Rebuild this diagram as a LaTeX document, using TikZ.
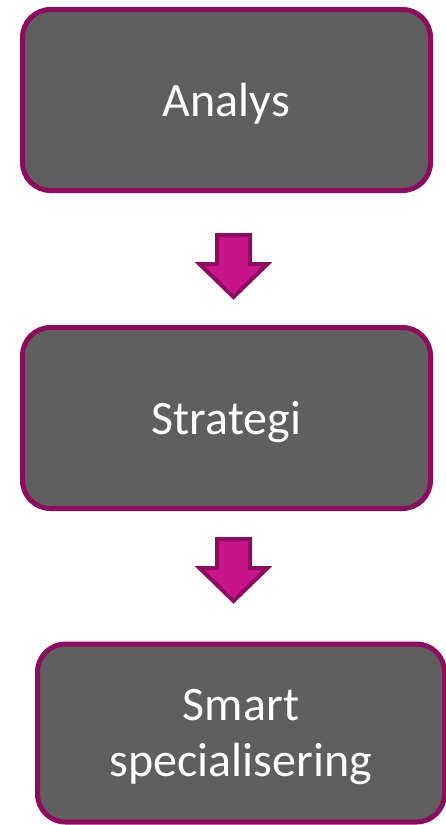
\documentclass[tikz,border=0pt]{standalone}
\usepackage{fontspec}
\setmainfont{Carlito}
\usetikzlibrary{positioning}
\definecolor{boxgray}{HTML}{5F5F5F}
\definecolor{plum}{HTML}{8E0C5F}
\definecolor{magenta}{HTML}{C8168A}

\begin{document}
\begin{tikzpicture}[x=1pt, y=-1pt,
    stage/.style={draw=plum, line width=5pt, fill=boxgray, rounded corners=28pt,
      minimum width=408pt, minimum height=181pt, text=white, align=center,
      text depth=0pt, font=\fontsize{48}{56}\selectfont},
    flowarrow/.style={draw=plum, line width=4pt, fill=magenta, line join=miter}]
      \useasboundingbox (0,0) rectangle (446,825);
      \node[stage] (analys) at (226.5,100) {Analys};
      \node[stage] (strategi) at (226.5,418) {Strategi};
      \node[stage, minimum width=407pt, minimum height=178pt] (smart) at (241,733) {Smart\\specialisering};
      \coordinate (a1) at (233.5,235);
      \coordinate (a2) at (233.5,539);
      \draw[flowarrow] (a1) ++(-16.5,0) -- ++(33,0) -- ++(0,29) -- ++(17.5,0) -- ++(-34,33) -- ++(-34,-33) -- ++(17.5,0) -- cycle;
      \draw[flowarrow] (a2) ++(-16.5,0) -- ++(33,0) -- ++(0,29) -- ++(17.5,0) -- ++(-34,33) -- ++(-34,-33) -- ++(17.5,0) -- cycle;
\end{tikzpicture}
\end{document}
